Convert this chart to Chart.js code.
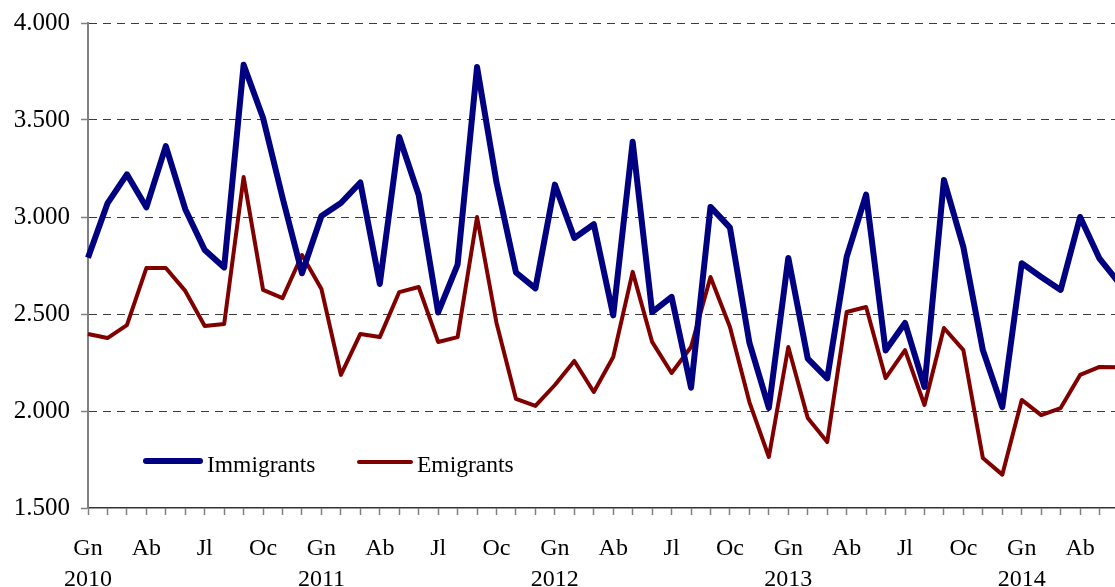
<!DOCTYPE html>
<html>
<head>
<meta charset="utf-8">
<script src="https://cdn.jsdelivr.net/npm/chart.js@4/dist/chart.umd.min.js"></script>
<style>
  html, body { margin: 0; padding: 0; background: #fff; overflow: hidden; width: 1115px; height: 587px; }
  #wrap { position: relative; width: 1125px; height: 587px; }
  .lg-line { position: absolute; }
  .lg-text { position: absolute; font-family: 'Liberation Serif', 'Times New Roman', serif; font-size: 23.5px; line-height: 24px; color: #000; white-space: nowrap; }
</style>
</head>
<body>
<div id="wrap">
  <canvas id="c"></canvas>
  <div class="lg-line" style="left:143px;top:458px;width:60px;height:6px;background:#000080;border-radius:3px;"></div>
  <div class="lg-text" style="left:207px;top:452px;">Immigrants</div>
  <div class="lg-line" style="left:357px;top:460px;width:56px;height:4px;background:#800000;border-radius:2px;"></div>
  <div class="lg-text" style="left:417px;top:452px;">Emigrants</div>
</div>
<script>
// Month abbreviations (Catalan) and years
const monthNames = ['Gn','Fb','Mç','Ab','Mg','Jn','Jl','Ag','St','Oc','Nv','Ds'];
const years = [2010, 2011, 2012, 2013, 2014];
const monthsIn2014 = 6;

// Series values (Jan 2010 – Jun 2014)
const immigrants = [
  2790,3070,3220,3050,3365,3040,2830,2740,3785,3510,3100,2710,
  3005,3072,3178,2655,3412,3113,2508,2755,3773,3178,2714,2632,
  3167,2892,2963,2493,3388,2510,2588,2120,3052,2945,2352,2016,
  2789,2270,2168,2794,3115,2312,2454,2124,3191,2845,2314,2020,
  2762,2691,2624,3000,2785,2660
];
const emigrants = [
  2397,2376,2443,2737,2737,2619,2438,2448,3206,2624,2582,2804,
  2629,2186,2397,2381,2613,2639,2356,2381,3000,2454,2062,2026,
  2134,2258,2098,2278,2717,2356,2196,2330,2691,2433,2046,1763,
  2330,1964,1840,2510,2536,2170,2314,2031,2428,2314,1758,1672,
  2057,1979,2015,2186,2227,2225
];

// Y tick values
const yTicks = [1500, 2000, 2500, 3000, 3500, 4000];

// Build categories
const categories = [];
years.forEach(y => {
  const n = (y === 2014) ? monthsIn2014 : 12;
  for (let m = 0; m < n; m++) categories.push({ month: monthNames[m], year: y, m: m });
});

const serif = "'Liberation Serif', 'Times New Roman', serif";

new Chart(document.getElementById('c'), {
  type: 'line',
  data: {
    labels: categories.map(c => c.month + ' ' + c.year),
    datasets: [
      { label: 'Immigrants', data: immigrants, borderColor: '#000080', borderWidth: 6,
        pointRadius: 0, tension: 0, borderJoinStyle: 'round', borderCapStyle: 'butt' },
      { label: 'Emigrants', data: emigrants, borderColor: '#800000', borderWidth: 4,
        pointRadius: 0, tension: 0, borderJoinStyle: 'round', borderCapStyle: 'butt' }
    ]
  },
  options: {
    responsive: true,
    maintainAspectRatio: false,
    animation: false,
    layout: { padding: { top: 23, right: 6, left: 0, bottom: 0 } },
    plugins: { legend: { display: false }, tooltip: { enabled: false } },
    scales: {
      x: {
        type: 'category',
        offset: false,
        afterFit: s => { s.height = 79; s.paddingLeft = 0; s.paddingRight = 0; },
        grid: { display: true, drawOnChartArea: false, drawTicks: true, tickLength: 7,
                tickColor: '#808080', tickWidth: 1.5 },
        border: { display: true, color: '#333333', width: 1.5 },
        ticks: {
          autoSkip: false, maxRotation: 0, minRotation: 0, padding: 18,
          color: '#000',
          font: { family: serif, size: 24, lineHeight: 1.3 },
          callback: function(val, idx) {
            const c = categories[idx];
            if (c.m % 3 !== 0) return '';
            return c.m === 0 ? [c.month, String(c.year)] : c.month;
          }
        }
      },
      y: {
        min: 1500, max: 4000,
        afterFit: s => { s.width = 88; s.paddingTop = 0; s.paddingBottom = 0; },
        afterBuildTicks: s => { s.ticks = yTicks.map(v => ({ value: v })); },
        grid: {
          color: ctx => (ctx.tick && ctx.tick.value === 1500) ? 'rgba(0,0,0,0)' : '#3a3a3a',
          lineWidth: 1, tickBorderDash: [],
          tickColor: '#808080', tickLength: 7, tickWidth: 1.5
        },
        border: { display: true, color: '#808080', width: 2, dash: [8, 6] },
        ticks: {
          padding: 11, color: '#000',
          font: { family: serif, size: 25 },
          callback: v => (v / 1000).toFixed(3)
        }
      }
    }
  }
});
</script>
</body>
</html>
